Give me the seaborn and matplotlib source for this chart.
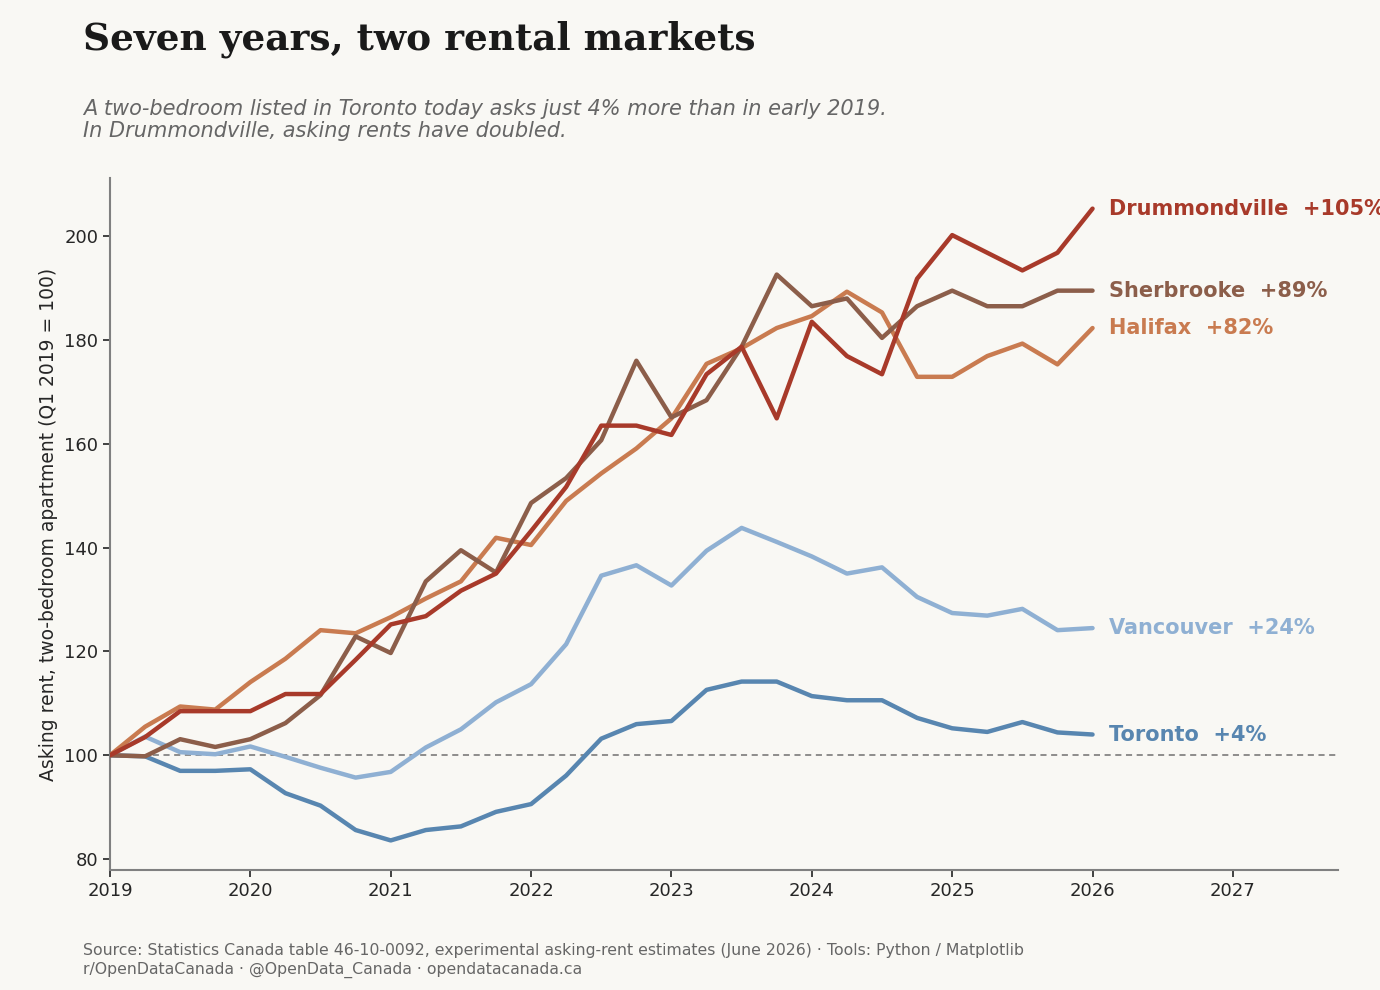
import numpy as np
import pandas as pd
import matplotlib
matplotlib.use("Agg")
import matplotlib.pyplot as plt
import seaborn as sns

# quarterly index, Q1 2019 = 100
quarters = np.arange(2019, 2026.01, 0.25)

drummondville = [100, 103.5, 108.5, 108.5, 108.5, 111.8, 111.8, 118.4, 125.2, 126.8,
                 131.7, 135.0, 143.2, 151.7, 163.5, 163.5, 161.7, 173.4, 178.7, 164.9,
                 183.5, 176.9, 173.4, 191.8, 200.2, 196.8, 193.4, 196.8, 205.3]
sherbrooke = [100, 99.8, 103.1, 101.6, 103.1, 106.2, 111.6, 122.9, 119.7, 133.5,
              139.5, 135.2, 148.6, 153.4, 160.7, 176.0, 165.1, 168.4, 178.7, 192.6,
              186.5, 188.0, 180.4, 186.5, 189.5, 186.5, 186.5, 189.5, 189.5]
halifax = [100, 105.5, 109.4, 108.8, 114.1, 118.6, 124.1, 123.5, 126.6, 130.2,
           133.5, 141.9, 140.5, 149.0, 154.3, 159.1, 164.9, 175.4, 178.4, 182.3,
           184.6, 189.3, 185.3, 172.9, 172.9, 176.9, 179.3, 175.3, 182.3]
vancouver = [100, 103.6, 100.6, 100.2, 101.7, 99.7, 97.6, 95.7, 96.8, 101.5,
             105.0, 110.2, 113.7, 121.4, 134.6, 136.6, 132.7, 139.4, 143.8, 141.1,
             138.3, 135.0, 136.2, 130.5, 127.4, 126.9, 128.2, 124.1, 124.5]
toronto = [100, 99.8, 97.0, 97.0, 97.3, 92.7, 90.3, 85.6, 83.6, 85.6,
           86.3, 89.1, 90.6, 96.1, 103.2, 106.0, 106.6, 112.6, 114.2, 114.2,
           111.4, 110.6, 110.6, 107.2, 105.2, 104.5, 106.4, 104.4, 104.0]

cities = ["Drummondville", "Sherbrooke", "Halifax", "Vancouver", "Toronto"]
series = [drummondville, sherbrooke, halifax, vancouver, toronto]
changes = ["+105%", "+89%", "+82%", "+24%", "+4%"]
colors = ["#a83a2a", "#8c5e4a", "#c97b50", "#8fb0d3", "#5886b0"]

df = pd.DataFrame({
    "quarter": np.tile(quarters, len(cities)),
    "index": np.concatenate(series),
    "city": np.repeat(cities, len(quarters)),
})

bg = "#f9f8f4"
sns.set_style("ticks")
plt.rcParams["font.family"] = ["DejaVu Sans"]

fig = plt.figure(figsize=(13.8, 9.9), dpi=100, facecolor=bg)
ax = fig.add_axes([0.0797, 0.1212, 0.89, 0.699])
ax.set_facecolor(bg)

ax.axhline(100, color="#707070", lw=1.1, ls=(0, (4, 3)), zorder=1)

# draw in reverse so Drummondville sits on top
sns.lineplot(data=df, x="quarter", y="index", hue="city",
             hue_order=cities[::-1], palette=dict(zip(cities, colors)),
             lw=3.2, legend=False, ax=ax, zorder=3)

for city, vals, chg, col in zip(cities, series, changes, colors):
    ax.text(quarters[-1] + 0.12, vals[-1], f"{city}  {chg}", color=col,
            fontsize=15, fontweight="bold", va="center", ha="left", clip_on=False)

ax.set_xlim(2019, 2027.75)
ax.set_ylim(77.9, 211.2)
ax.set_xticks(range(2019, 2028))
ax.set_yticks(range(80, 201, 20))
ax.tick_params(axis="both", labelsize=13, length=5, width=1.2, color="#222222")
ax.set_xlabel("")
ax.set_ylabel("Asking rent, two-bedroom apartment (Q1 2019 = 100)", fontsize=13.5)
for side in ["top", "right"]:
    ax.spines[side].set_visible(False)
for side in ["left", "bottom"]:
    ax.spines[side].set_color("#808080")
    ax.spines[side].set_linewidth(1.5)

fig.text(0.06, 0.95, "Seven years, two rental markets", fontsize=27,
         fontweight="bold", family="DejaVu Serif", color="#1a1a1a", va="baseline")
fig.text(0.06, 0.9,
         "A two-bedroom listed in Toronto today asks just 4% more than in early 2019.\n"
         "In Drummondville, asking rents have doubled.",
         fontsize=15, style="italic", color="#666666", va="top", linespacing=1.15)
fig.text(0.06, 0.012,
         "Source: Statistics Canada table 46-10-0092, experimental asking-rent estimates (June 2026) \u00b7 Tools: Python / Matplotlib\n"
         "r/OpenDataCanada \u00b7 @OpenData_Canada \u00b7 opendatacanada.ca",
         fontsize=11.3, color="#666666", va="bottom", linespacing=1.35)

fig.savefig("out.png", dpi=100, facecolor=bg)
